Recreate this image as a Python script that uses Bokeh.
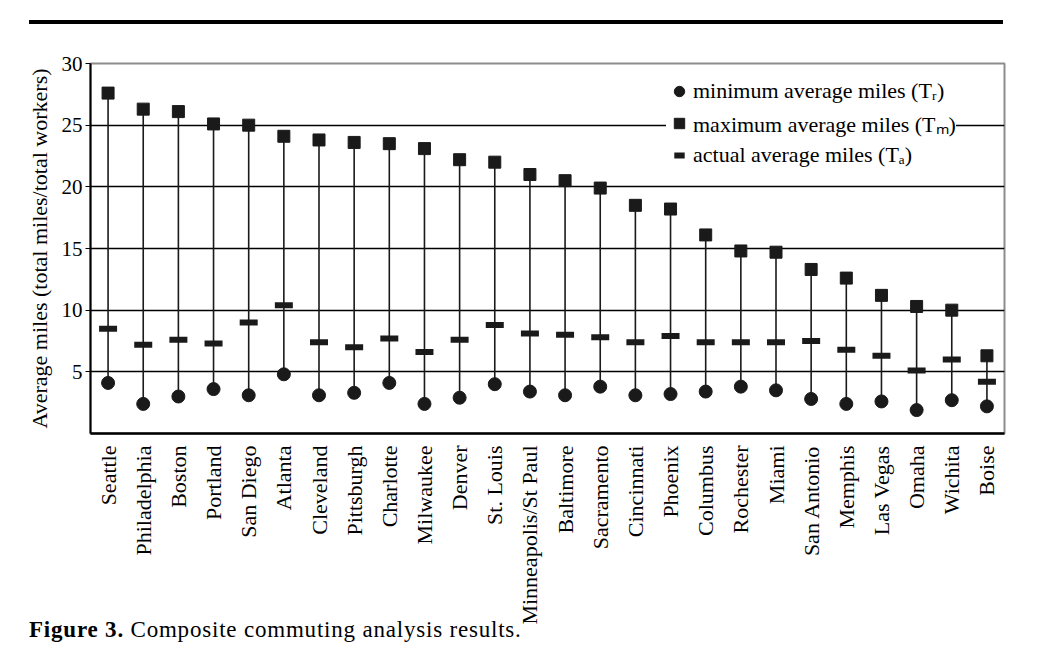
import math
from bokeh.plotting import figure
from bokeh.models import Range1d, FactorRange, FixedTicker, Div, ColumnDataSource
from bokeh.layouts import column
from bokeh.embed import file_html
from bokeh.resources import INLINE

cities = ["Seattle", "Philadelphia", "Boston", "Portland", "San Diego", "Atlanta",
          "Cleveland", "Pittsburgh", "Charlotte", "Milwaukee", "Denver", "St. Louis",
          "Minneapolis/St Paul", "Baltimore", "Sacramento", "Cincinnati", "Phoenix",
          "Columbus", "Rochester", "Miami", "San Antonio", "Memphis", "Las Vegas",
          "Omaha", "Wichita", "Boise"]
max_miles = [27.6, 26.3, 26.1, 25.1, 25.0, 24.1, 23.8, 23.6, 23.5, 23.1, 22.2, 22.0,
             21.0, 20.5, 19.9, 18.5, 18.2, 16.1, 14.8, 14.7, 13.3, 12.6, 11.2, 10.3,
             10.0, 6.3]
actual_miles = [8.5, 7.2, 7.6, 7.3, 9.0, 10.4, 7.4, 7.0, 7.7, 6.6, 7.6, 8.8, 8.1, 8.0,
                7.8, 7.4, 7.9, 7.4, 7.4, 7.4, 7.5, 6.8, 6.3, 5.1, 6.0, 4.2]
min_miles = [4.1, 2.4, 3.0, 3.6, 3.1, 4.8, 3.1, 3.3, 4.1, 2.4, 2.9, 4.0, 3.4, 3.1, 3.8,
             3.1, 3.2, 3.4, 3.8, 3.5, 2.8, 2.4, 2.6, 1.9, 2.7, 2.2]
y_ticks = [5, 10, 15, 20, 25, 30]
grid_ticks = [5, 10, 15, 20, 25]

SERIF = "Liberation Serif"
INK = "#1a1a1a"

src = ColumnDataSource(dict(city=cities, mx=max_miles, ac=actual_miles, mn=min_miles))

p = figure(width=1026, height=587, x_range=FactorRange(factors=cities, range_padding=0),
           y_range=Range1d(0, 30), output_backend="svg", toolbar_location=None,
           title=None)
p.min_border_left = 90
p.min_border_right = 22
p.min_border_top = 23
p.min_border_bottom = 190

p.segment(x0="city", y0="mn", x1="city", y1="mx", source=src,
          line_color=INK, line_width=1.6)
p.scatter(x="city", y="mn", source=src, marker="circle", size=13,
          fill_color=INK, line_color=INK, legend_label="minimum average miles (Tᵣ)")
p.scatter(x="city", y="mx", source=src, marker="square", size=12,
          fill_color=INK, line_color=INK, legend_label="maximum average miles (Tₘ)")
p.scatter(x="city", y="ac", source=src, marker="dash", size=18,
          line_color=INK, line_width=6, legend_label="actual average miles (Tₐ)")

# axes
p.yaxis.ticker = FixedTicker(ticks=y_ticks)
p.yaxis.axis_label = "Average miles (total miles/total workers)"
p.yaxis.axis_label_text_font = SERIF
p.yaxis.axis_label_text_font_size = "22px"
p.yaxis.axis_label_text_font_style = "normal"
p.yaxis.axis_label_text_color = "black"
p.yaxis.axis_label_standoff = 7
p.yaxis.major_label_text_font = SERIF
p.yaxis.major_label_text_font_size = "21px"
p.yaxis.major_label_text_color = "black"
p.yaxis.major_tick_in = 0
p.yaxis.major_tick_out = 5
p.yaxis.major_tick_line_color = "black"
p.yaxis.minor_tick_line_color = None
p.yaxis.axis_line_color = "black"
p.yaxis.axis_line_width = 2
p.yaxis.major_label_standoff = 3

p.xaxis.major_label_orientation = math.pi / 2
p.xaxis.major_label_text_font = SERIF
p.xaxis.major_label_text_font_size = "22px"
p.xaxis.major_label_text_color = "black"
p.xaxis.major_tick_line_color = None
p.xaxis.minor_tick_line_color = None
p.xaxis.axis_line_color = "black"
p.xaxis.axis_line_width = 2.5
p.xaxis.major_label_standoff = 6

p.xgrid.visible = False
p.ygrid.ticker = FixedTicker(ticks=grid_ticks)
p.ygrid.grid_line_color = "black"
p.ygrid.grid_line_width = 1.5

p.outline_line_color = "#8c8c8c"
p.outline_line_width = 2

lg = p.legend[0]
lg.location = (576, 265)
lg.label_text_font = SERIF
lg.label_text_font_size = "22px"
lg.label_text_color = "black"
lg.border_line_color = None
lg.background_fill_color = "white"
lg.background_fill_alpha = 1.0
lg.padding = 5
lg.spacing = 4
lg.label_standoff = 1
lg.glyph_width = 26
lg.glyph_height = 26
lg.label_height = 26
lg.margin = 0

top = Div(text='<div style="margin-left:24px;margin-top:15px;width:974px;height:4px;background:#000;"></div>',
          width=1026, height=30)
caption = Div(text='<div style="position:relative;top:-7px;margin-left:24px;margin-top:-21px;font-family:\'Liberation Serif\';font-size:23px;letter-spacing:0.8px;color:#000;line-height:26px;">'
                   '<b>Figure 3.</b> Composite commuting analysis results.</div>',
              width=1026, height=30)

layout = column(top, p, caption)
open("out.html", "w").write(file_html(layout, INLINE))
